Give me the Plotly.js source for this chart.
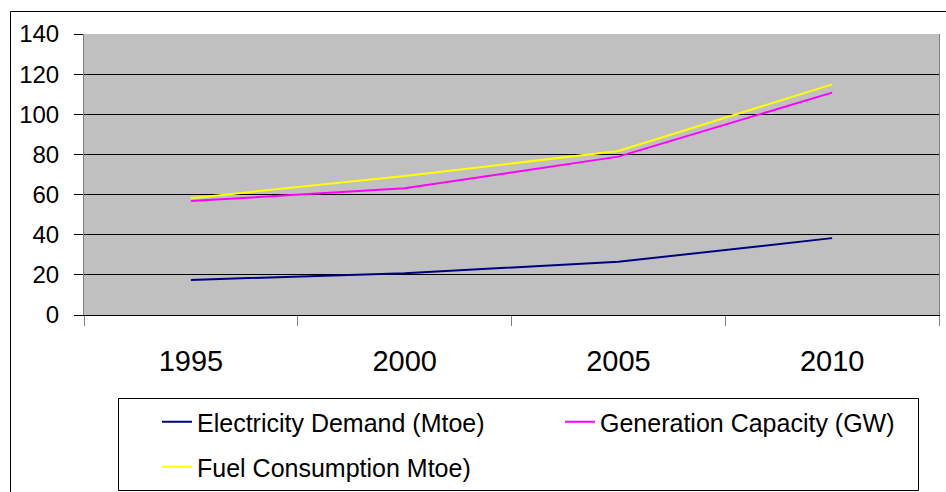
<!DOCTYPE html>
<html>
<head>
<meta charset="utf-8">
<script src="https://cdn.plot.ly/plotly-3.0.1.min.js"></script>
<style>html,body{margin:0;padding:0;background:#fff;}#chart{width:946px;height:492px;}</style>
</head>
<body>
<div id="chart"></div>
<script>
const years = ["1995", "2000", "2005", "2010"];
const electricityDemand = [17.5, 20.8, 26.5, 38.3];
const generationCapacity = [56.8, 63.1, 78.9, 110.8];
const fuelConsumption = [58.2, 69.3, 81.7, 114.9];
const yTicks = [0, 20, 40, 60, 80, 100, 120, 140];

const L = 84, R = 939, T = 34, B = 315;
const pw = R - L, ph = B - T;
const px = v => (v - L) / pw;
const py = v => (B - v) / ph;

const traces = [
  {x: years, y: electricityDemand, name: "Electricity Demand (Mtoe)", mode: "lines", line: {color: "#000080", width: 2}, legend: "legend"},
  {x: years, y: generationCapacity, name: "Generation Capacity (GW)", mode: "lines", line: {color: "#FF00FF", width: 2}, legend: "legend"},
  {x: years, y: fuelConsumption, name: "Fuel Consumption Mtoe)", mode: "lines", line: {color: "#FFFF00", width: 2}, legend: "legend2"}
];

const legendCommon = {
  orientation: "h", xanchor: "left", yanchor: "middle",
  borderwidth: 0, bgcolor: "rgba(0,0,0,0)",
  font: {size: 25, family: "Liberation Sans, Arial, sans-serif", color: "#000"}
};

const layout = {
  width: 946, height: 492,
  margin: {l: L, r: 946 - R, t: T, b: 492 - B, autoexpand: false},
  paper_bgcolor: "#ffffff",
  plot_bgcolor: "#C0C0C0",
  font: {family: "Liberation Sans, Arial, sans-serif", color: "#000", size: 20},
  showlegend: true,
  xaxis: {
    type: "category", range: [-0.5, 3.5], tickson: "boundaries",
    ticks: "outside", ticklen: 10, tickcolor: "#808080", tickwidth: 1,
    showline: true, linecolor: "#000", linewidth: 1,
    showgrid: false, tickfont: {size: 29}, ticklabelstandoff: 20
  },
  yaxis: {
    range: [0, 140], tickvals: yTicks, ticktext: yTicks.map(String),
    ticks: "outside", ticklen: 9, tickcolor: "#000",
    showline: true, linecolor: "#808080", linewidth: 1, mirror: true,
    showgrid: true, gridcolor: "#000", gridwidth: 1, zeroline: false,
    tickfont: {size: 24}, ticklabelstandoff: 10, fixedrange: true
  },
  legend: Object.assign({}, legendCommon, {x: px(157), y: py(422), entrywidth: 358}),
  legend2: Object.assign({}, legendCommon, {x: px(157), y: py(467), entrywidth: 358}),
  shapes: [
    {type: "rect", xref: "paper", yref: "paper", x0: px(10.5), x1: px(960), y0: py(11.5), y1: py(510),
     line: {color: "#000", width: 1}, fillcolor: "rgba(0,0,0,0)", layer: "below"},
    {type: "rect", xref: "paper", yref: "paper", x0: px(118.5), x1: px(918.5), y0: py(398.5), y1: py(490.5),
     line: {color: "#000", width: 1}, fillcolor: "rgba(0,0,0,0)", layer: "below"}
  ]
};

Plotly.newPlot("chart", traces, layout, {staticPlot: true, displayModeBar: false});
</script>
</body>
</html>
